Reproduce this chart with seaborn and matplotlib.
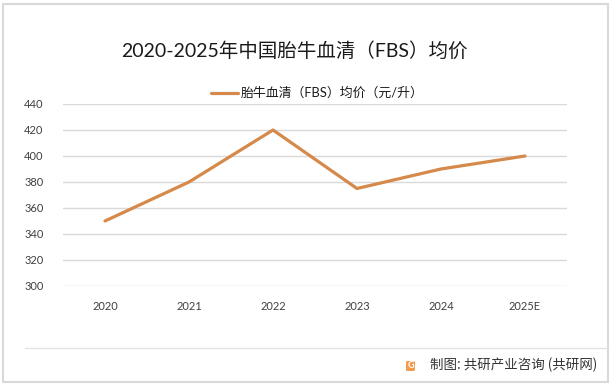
import matplotlib
matplotlib.use("Agg")
import matplotlib.pyplot as plt
import seaborn as sns
import pandas as pd
from matplotlib.patches import Rectangle, FancyBboxPatch
from matplotlib.lines import Line2D

years = ["2020", "2021", "2022", "2023", "2024", "2025E"]
prices = [350, 380, 420, 375, 390, 400]
series_name = "胎牛血清（FBS）均价（元/升）"
title = "2020-2025年中国胎牛血清（FBS）均价"
footer = "制图: 共研产业咨询 (共研网)"
yticks = [300, 320, 340, 360, 380, 400, 420, 440]

sns.set_theme(style="white")
plt.rcParams['font.family'] = ['Lato', 'Noto Sans CJK SC', 'DejaVu Sans']

df = pd.DataFrame({"year": years, "price": prices})

W, H = 616, 388
fig = plt.figure(figsize=(W / 100, H / 100), dpi=100)
ax = fig.add_axes([63 / W, 1 - 286 / H, (567 - 63) / W, (286 - 104) / H])

color = "#D5894B"
sns.lineplot(data=df, x="year", y="price", ax=ax, color=color, linewidth=2.3,
             sort=False, legend=False)

ax.set_xlim(-0.5, len(years) - 0.5)
ax.set_ylim(300, 440)
ax.set_yticks(yticks)
ax.set_xticks(range(len(years)))
ax.set_xticklabels(years)
ax.yaxis.grid(True, color="#D9D9D9", linewidth=1.0)
ax.xaxis.grid(False)
for s in ax.spines.values():
    s.set_visible(False)
ax.tick_params(axis="both", length=0, labelsize=8, colors="#404040")
ax.tick_params(axis="x", pad=11)
ax.tick_params(axis="y", pad=14)
ax.set_xlabel("")
ax.set_ylabel("")

# title
fig.text(294 / W, 1 - 50 / H, title, ha="center", va="center", fontsize=14, color="#1a1a1a")

# legend
ly = 1 - 93 / H
fig.add_artist(Line2D([211 / W, 238 / W], [ly, ly], color=color, linewidth=2.3))
fig.text(241 / W, ly, series_name, ha="left", va="center", fontsize=9.3, color="#1a1a1a")

# outer border
fig.add_artist(Rectangle((3 / W, 6 / H), (608 - 3) / W, (384 - 6) / H, fill=False,
                         edgecolor="#D9D9D9", linewidth=1.5, transform=fig.transFigure))
# separator line
fig.add_artist(Line2D([25 / W, 608 / W], [40 / H, 40 / H], color="#E3E3E3", linewidth=1.0))

# footer logo + text
fig.add_artist(FancyBboxPatch((406 / W, (388 - 371) / H), 9 / W, 10 / H,
                              boxstyle="round,pad=0.0,rounding_size=0.003",
                              facecolor="#F2994A", edgecolor="none", transform=fig.transFigure))
fig.text(410.5 / W, 1 - 366 / H, "G", ha="center", va="center", fontsize=6.5,
         color="white", fontweight="bold")
fig.text(597 / W, 1 - 365 / H, footer, ha="right", va="center", fontsize=9.7,
         color="#333333", family=['Noto Sans CJK SC', 'DejaVu Sans'])

fig.savefig("out.png", dpi=100)
